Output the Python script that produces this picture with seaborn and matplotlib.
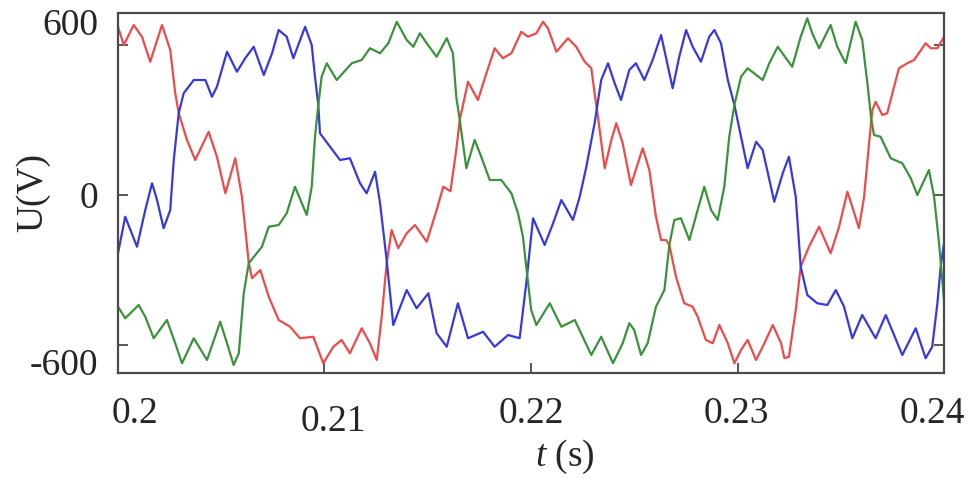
import matplotlib
matplotlib.use("Agg")
import matplotlib.pyplot as plt
import matplotlib.transforms as mtransforms
import numpy as np
import pandas as pd
import seaborn as sns

# ---- data (t in s, U in V) ----
red_t = [0.2000, 0.20028, 0.20076, 0.20116, 0.20156, 0.20213, 0.20253, 0.20277, 0.20294, 0.20334,
         0.20374, 0.20439, 0.20479, 0.20520, 0.20568, 0.20600, 0.20633, 0.20649, 0.20689, 0.20730,
         0.20778, 0.20833, 0.20881, 0.20946, 0.20994, 0.21043, 0.21083, 0.21123, 0.21180, 0.21220,
         0.21253, 0.21277, 0.21301, 0.21325, 0.21357, 0.21398, 0.21438, 0.21495, 0.21543, 0.21575,
         0.21610, 0.21638, 0.21655, 0.21695, 0.21743, 0.21784, 0.21824, 0.21864, 0.21905, 0.21953,
         0.21985, 0.22026, 0.22058, 0.22082, 0.22123, 0.22179, 0.22219, 0.22260, 0.22292, 0.22308,
         0.22324, 0.22357, 0.22389, 0.22413, 0.22444, 0.22484, 0.22541, 0.22573, 0.22605, 0.22630,
         0.22654, 0.22670, 0.22702, 0.22742, 0.22783, 0.22807, 0.22847, 0.22880, 0.22912, 0.22953,
         0.22985, 0.23017, 0.23049, 0.23090, 0.23130, 0.23171, 0.23211, 0.23227, 0.23249, 0.23282,
         0.23306, 0.23346, 0.23395, 0.23451, 0.23492, 0.23532, 0.23556, 0.23588, 0.23613, 0.23637,
         0.23653, 0.23669, 0.23701, 0.23725, 0.23758, 0.23782, 0.23822, 0.23855, 0.23911, 0.23936,
         0.23968, 0.24000]
red_u = [673, 600, 680, 633, 533, 680, 580, 408, 328, 220,
         140, 253, 153, 7, 147, -7, -270, -333, -300, -407,
         -500, -527, -573, -567, -673, -607, -580, -633, -533, -593,
         -660, -487, -273, -140, -213, -153, -120, -187, -60, 33,
         15, 180, 300, 453, 380, 487, 587, 547, 567, 653,
         633, 647, 693, 667, 573, 627, 593, 533, 507, 407,
         313, 107, 220, 287, 207, 40, 187, 100, -87, -180,
         -180, -200, -327, -433, -447, -487, -580, -593, -520, -593,
         -673, -620, -580, -660, -593, -520, -593, -653, -647, -460,
         -287, -207, -127, -233, -127, 13, -47, -133, -7, 207,
         340, 373, 320, 327, 433, 507, 527, 540, 607, 587,
         587, 633]

blue_t = [0.2000, 0.20035, 0.20092, 0.20132, 0.20165, 0.20189, 0.20221, 0.20253, 0.20270, 0.20294,
          0.20318, 0.20367, 0.20423, 0.20455, 0.20479, 0.20528, 0.20576, 0.20616, 0.20657, 0.20706,
          0.20746, 0.20778, 0.20817, 0.20849, 0.20906, 0.20938, 0.20953, 0.20970, 0.20978, 0.21027,
          0.21075, 0.21123, 0.21172, 0.21204, 0.21245, 0.21269, 0.21301, 0.21333, 0.21398, 0.21446,
          0.21503, 0.21543, 0.21592, 0.21646, 0.21695, 0.21768, 0.21824, 0.21889, 0.21945, 0.21977,
          0.22010, 0.22066, 0.22107, 0.22147, 0.22203, 0.22236, 0.22268, 0.22308, 0.22340, 0.22373,
          0.22405, 0.22436, 0.22476, 0.22508, 0.22549, 0.22589, 0.22630, 0.22686, 0.22718, 0.22751,
          0.22783, 0.22823, 0.22863, 0.22888, 0.22920, 0.22953, 0.22985, 0.23017, 0.23049, 0.23090,
          0.23122, 0.23178, 0.23219, 0.23249, 0.23282, 0.23298, 0.23306, 0.23338, 0.23386, 0.23435,
          0.23476, 0.23516, 0.23556, 0.23604, 0.23669, 0.23718, 0.23798, 0.23863, 0.23911, 0.23943,
          0.23968, 0.23984, 0.24000]
blue_u = [-233, -87, -207, -60, 47, -20, -133, -60, 140, 327,
          407, 460, 460, 393, 433, 573, 493, 547, 593, 480,
          567, 660, 633, 547, 673, 600, 480, 360, 247, 193,
          140, 147, 47, 7, 93, -33, -260, -520, -380, -453,
          -393, -553, -607, -433, -573, -547, -607, -560, -573, -353,
          -93, -200, -113, -20, -100, -7, 113, 287, 460, 527,
          447, 380, 500, 527, 460, 540, 640, 427, 553, 660,
          593, 533, 633, 660, 607, 460, 360, 233, 107, 213,
          180, -27, 87, 153, -7, -193, -287, -400, -433, -440,
          -380, -447, -573, -480, -573, -480, -640, -533, -653, -607,
          -433, -287, -193]

green_t = [0.2000, 0.20035, 0.20100, 0.20132, 0.20173, 0.20237, 0.20277, 0.20310, 0.20367, 0.20431,
           0.20495, 0.20528, 0.20560, 0.20585, 0.20609, 0.20633, 0.20665, 0.20697, 0.20730, 0.20778,
           0.20817, 0.20857, 0.20914, 0.20938, 0.20954, 0.20970, 0.20986, 0.21011, 0.21059, 0.21132,
           0.21180, 0.21220, 0.21269, 0.21309, 0.21350, 0.21398, 0.21430, 0.21462, 0.21495, 0.21543,
           0.21592, 0.21622, 0.21638, 0.21655, 0.21687, 0.21727, 0.21759, 0.21800, 0.21856, 0.21905,
           0.21937, 0.21961, 0.21977, 0.22001, 0.22026, 0.22091, 0.22147, 0.22212, 0.22292, 0.22340,
           0.22397, 0.22444, 0.22476, 0.22500, 0.22533, 0.22565, 0.22605, 0.22646, 0.22670, 0.22694,
           0.22726, 0.22767, 0.22807, 0.22839, 0.22872, 0.22904, 0.22936, 0.22960, 0.22985, 0.23017,
           0.23049, 0.23122, 0.23154, 0.23195, 0.23235, 0.23265, 0.23306, 0.23338, 0.23362, 0.23395,
           0.23451, 0.23483, 0.23524, 0.23572, 0.23604, 0.23629, 0.23648, 0.23661, 0.23693, 0.23742,
           0.23798, 0.23839, 0.23871, 0.23927, 0.23952, 0.23976, 0.24000]
green_u = [-447, -493, -440, -487, -573, -500, -593, -673, -573, -660,
           -507, -593, -680, -633, -393, -273, -240, -207, -127, -120,
           -73, 33, -80, 33, 233, 360, 473, 527, 460, 527,
           540, 587, 567, 607, 693, 620, 593, 647, 607, 553,
           627, 567, 393, 300, 107, 220, 153, 60, 60, 7,
           -73, -167, -287, -460, -520, -433, -527, -500, -640, -567,
           -673, -593, -513, -540, -640, -593, -447, -380, -200, -100,
           -93, -180, -60, 33, -60, -100, 33, 233, 360, 473,
           507, 460, 527, 593, 547, 513, 633, 707, 647, 587,
           680, 593, 527, 693, 620, 447, 300, 240, 233, 147,
           127, 67, 0, 100, -7, -193, -420]

x_ticks = [0.20, 0.21, 0.22, 0.23, 0.24]
x_tick_labels = ["0.2", "0.21", "0.22", "0.23", "0.24"]
y_ticks = [-600, 0, 600]
y_tick_labels = ["-600", "0", "600"]

df = pd.concat([
    pd.DataFrame({"t": red_t, "U": red_u, "phase": "a"}),
    pd.DataFrame({"t": blue_t, "U": blue_u, "phase": "b"}),
    pd.DataFrame({"t": green_t, "U": green_u, "phase": "c"}),
], ignore_index=True)

sns.set_style("ticks")
plt.rcParams["font.family"] = ["Liberation Serif", "DejaVu Serif"]
plt.rcParams["mathtext.fontset"] = "custom"
plt.rcParams["mathtext.it"] = "Liberation Serif:italic"
plt.rcParams["mathtext.rm"] = "Liberation Serif"

DPI = 100
FS = 27
fig = plt.figure(figsize=(9.72, 4.79), dpi=DPI)
ax = fig.add_axes([118 / 972, 1 - 373 / 479, (944 - 118) / 972, (373 - 13) / 479])

palette = {"a": "#ef4a4a", "b": "#3838e0", "c": "#3a933a"}
sns.lineplot(data=df, x="t", y="U", hue="phase", palette=palette, sort=False,
             estimator=None, linewidth=1.6, legend=False, ax=ax)

ax.set_xlim(0.2, 0.24)
ax.set_ylim(-712, 728)
ax.set_xticks(x_ticks)
ax.set_xticklabels(x_tick_labels)
ax.set_yticks(y_ticks)
ax.set_yticklabels(y_tick_labels)

for side in ax.spines.values():
    side.set_color("#4a4a4a")
    side.set_linewidth(1.6)

ax.tick_params(axis="both", direction="in", length=7, width=1.3, color="#4a4a4a",
               labelsize=FS, right=True, top=False)
ax.tick_params(axis="x", pad=17)
ax.tick_params(axis="y", pad=14)

ax.set_xlabel(r"$t$ (s)", fontsize=FS)
ax.set_ylabel("U(V)", fontsize=FS)
ax.xaxis.set_label_coords((565 - 118) / 826, -0.18)
ax.yaxis.set_label_coords((50 - 118) / 826, 0.5)

fig.canvas.draw()
# shift labels to mimic reference placement (pixels)
x_shift = {"0.2": (17, 0), "0.21": (9, -8), "0.22": (0, 0), "0.23": (-1, 0), "0.24": (-12, 0)}
for lab in ax.get_xticklabels():
    dx, dy = x_shift.get(lab.get_text(), (0, 0))
    lab.set_transform(lab.get_transform() + mtransforms.ScaledTranslation(dx / DPI, dy / DPI, fig.dpi_scale_trans))
y_shift = {"600": 23, "0": 0, "-600": -17}
for lab in ax.get_yticklabels():
    dy = y_shift.get(lab.get_text(), 0)
    lab.set_transform(lab.get_transform() + mtransforms.ScaledTranslation(0, dy / DPI, fig.dpi_scale_trans))

fig.savefig("out.png", dpi=DPI)
